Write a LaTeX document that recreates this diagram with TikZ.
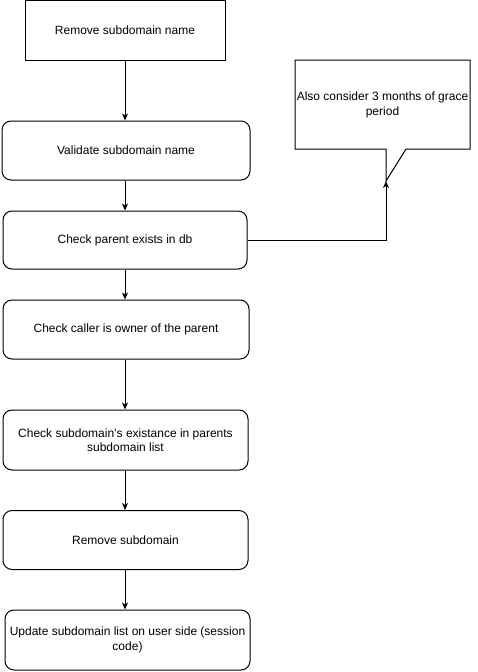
\documentclass[tikz,border=0pt]{standalone}
\usepackage{fontspec}
\setmainfont{Liberation Sans}
\usetikzlibrary{arrows.meta}
\begin{document}
\begin{tikzpicture}[x=1pt,y=-1pt,
  line width=1pt,
  font=\fontsize{12}{14.5}\selectfont,
  flowbox/.style={draw=black, fill=white, align=center, inner sep=4pt},
  roundbox/.style={flowbox, rounded corners=9pt},
  flow/.style={-{Stealth[length=7pt,width=6pt,inset=2pt]}}]
\useasboundingbox (0,0) rectangle (477,672);
\fill[white] (0,0) rectangle (477,672);

% process steps
\node[flowbox, minimum width=200pt, minimum height=60pt] (remove) at (125,30) {Remove subdomain name};
\node[roundbox, minimum width=248pt, minimum height=59pt] (validate) at (126,150.5) {Validate subdomain name};
\node[roundbox, minimum width=244pt, minimum height=58pt] (parent) at (125,240) {Check parent exists in db};
\node[roundbox, minimum width=246pt, minimum height=59pt] (owner) at (126,329.5) {Check caller is owner of the parent};
\node[roundbox, minimum width=245pt, minimum height=60pt] (exist) at (125.5,440) {Check subdomain's existance in parents\\subdomain list};
\node[roundbox, minimum width=245pt, minimum height=59pt] (removesub) at (125.5,540) {Remove subdomain};
\node[roundbox, minimum width=245pt, minimum height=60pt] (update) at (127.5,640) {Update subdomain list on user side (session\\code)};

% note callout
\coordinate (tip) at (386,181);
\draw[fill=white] (295,60) -- (470,60) -- (470,149) -- (406,149) -- (tip) -- (386,149) -- (295,149) -- cycle;
\node[align=center] (note) at (382.5,105) {Also consider 3 months of grace\\period};

% connectors
\draw[flow] (remove.south) -- (remove.south |- validate.north);
\draw[flow] (remove.south |- validate.south) -- (remove.south |- parent.north);
\draw[flow] (remove.south |- parent.south) -- (remove.south |- owner.north);
\draw[flow] (remove.south |- owner.south) -- (remove.south |- exist.north);
\draw[flow] (remove.south |- exist.south) -- (remove.south |- removesub.north);
\draw[flow] (remove.south |- removesub.south) -- (remove.south |- update.north);
\draw[flow] (parent.east) -| (tip);
\end{tikzpicture}
\end{document}
